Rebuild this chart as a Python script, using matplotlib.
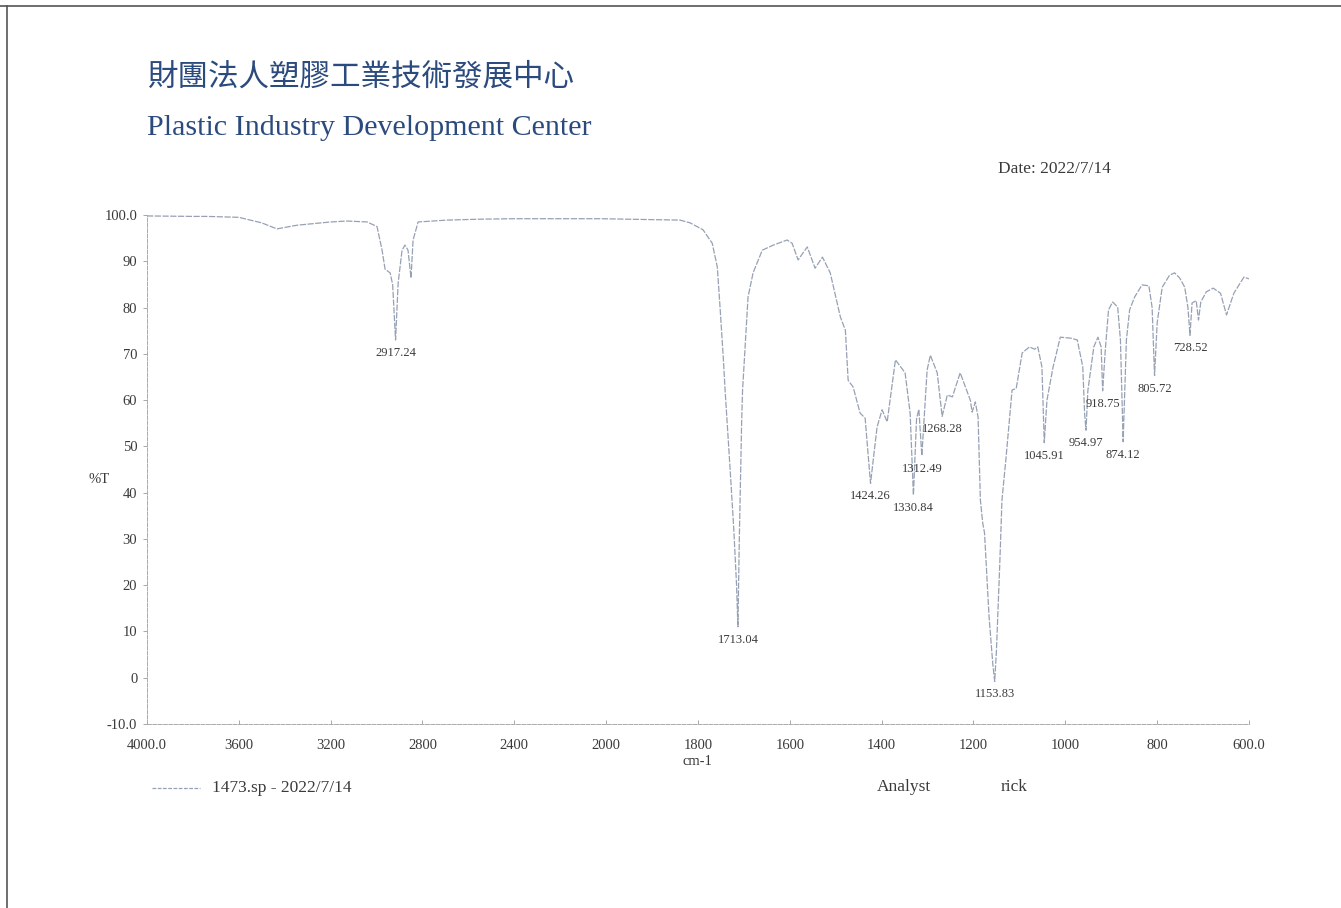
import numpy as np
import matplotlib
matplotlib.use("Agg")
import matplotlib.pyplot as plt
from matplotlib.ticker import FixedLocator, FixedFormatter

# FTIR spectrum: wavenumber (cm-1) and %T
wavenumber = [4000, 3800, 3740, 3600, 3500, 3434, 3346, 3200, 3129, 3041,
              2998, 2976, 2963, 2941, 2930, 2917.24, 2906, 2889, 2876, 2863,
              2850, 2841, 2819, 2693, 2549, 2400, 2200, 2026, 1904, 1839,
              1817, 1789, 1769, 1758, 1752, 1745, 1741, 1730, 1722, 1716,
              1713.04, 1710, 1705, 1703, 1691, 1680, 1660, 1636, 1606, 1595,
              1582, 1562, 1545, 1529, 1512, 1490, 1479, 1473, 1462, 1447,
              1436, 1424.26, 1410, 1399, 1388, 1370, 1349, 1338, 1330.84, 1324,
              1319, 1312.49, 1301, 1294, 1279, 1268.28, 1257, 1246, 1229, 1207,
              1203, 1196, 1190, 1185, 1180, 1176, 1166, 1158, 1153.83, 1150,
              1143, 1138, 1129, 1116, 1107, 1094, 1078, 1067, 1060, 1051,
              1045.91, 1040, 1027, 1011, 989, 974, 962, 958, 954.97, 951,
              938, 929, 922, 918.75, 913, 906, 897, 886, 880, 874.12,
              867, 860, 849, 833, 818, 811, 805.72, 800, 789, 773,
              762, 751, 740, 733, 728.52, 724, 715, 710, 705, 693,
              678, 662, 649, 633, 611, 600]
transmittance = [99.8, 99.7, 99.7, 99.5, 98.3, 97.0, 97.8, 98.5, 98.7, 98.5,
                 97.5, 92.4, 88.3, 87.5, 85.0, 73.0, 85.3, 92.4, 93.5, 92.4,
                 86.4, 94.6, 98.5, 98.9, 99.1, 99.2, 99.2, 99.2, 99.0, 98.9,
                 98.3, 96.8, 93.9, 88.8, 80.1, 69.3, 62.2, 45.0, 32.0, 20.0,
                 11.0, 30.0, 55.0, 62.0, 82.3, 87.5, 92.4, 93.5, 94.6, 93.9,
                 90.3, 93.1, 88.5, 90.9, 87.5, 78.0, 75.1, 64.3, 62.8, 57.2,
                 56.1, 42.0, 54.2, 57.9, 55.3, 68.7, 65.9, 57.2, 39.5, 56.0,
                 58.0, 48.0, 66.5, 69.7, 65.9, 56.5, 61.1, 60.7, 65.9, 60.0,
                 57.4, 59.6, 56.3, 38.4, 33.5, 31.3, 13.0, 3.0, -0.8, 6.0,
                 24.0, 38.4, 47.7, 62.2, 62.5, 70.2, 71.5, 71.0, 71.5, 67.2,
                 50.8, 60.0, 67.0, 73.6, 73.4, 73.0, 67.2, 57.0, 53.5, 62.0,
                 71.5, 73.6, 71.5, 62.0, 70.8, 79.5, 81.2, 80.1, 73.0, 51.0,
                 73.0, 79.5, 82.3, 84.9, 84.7, 80.0, 65.3, 76.7, 84.4, 87.0,
                 87.5, 86.4, 84.4, 80.0, 74.0, 81.0, 81.5, 77.3, 81.2, 83.4,
                 84.2, 83.1, 78.4, 83.1, 86.6, 86.2]

peak_wn = [2917.24, 1713.04, 1424.26, 1330.84, 1312.49, 1268.28, 1153.83,
           1045.91, 954.97, 918.75, 874.12, 805.72, 728.52]
peak_labels = ["2917.24", "1713.04", "1424.26", "1330.84", "1312.49", "1268.28",
               "1153.83", "1045.91", "954.97", "918.75", "874.12", "805.72", "728.52"]

x_ticks = [4000, 3600, 3200, 2800, 2400, 2000, 1800, 1600, 1400, 1200, 1000, 800, 600]
x_tick_labels = ["4000.0", "3600", "3200", "2800", "2400", "2000", "1800",
                 "1600", "1400", "1200", "1000", "800", "600.0"]
y_ticks = [-10, 0, 10, 20, 30, 40, 50, 60, 70, 80, 90, 100]
y_tick_labels = ["-10.0", "0", "10", "20", "30", "40", "50", "60", "70", "80", "90", "100.0"]

LINE = "#96a1b4"
TEXT = "#3a3a3a"
BLUE = "#2b4a7e"
SERIF = ["Liberation Serif", "DejaVu Serif"]


# instrument plots 4000-2000 at half the scale of 2000-600
def fwd(x):
    x = np.asarray(x, dtype=float)
    return np.where(x >= 2000, x / 400.0, x / 200.0 - 5.0)


def inv(u):
    u = np.asarray(u, dtype=float)
    return np.where(u >= 5, u * 400.0, (u + 5.0) * 200.0)


fig = plt.figure(figsize=(13.41, 9.08), dpi=100)
ax = fig.add_axes([0.1096, 0.2026, 0.8218, 0.5606])
ax.set_xscale("function", functions=(fwd, inv))
ax.plot(wavenumber, transmittance, color=LINE, lw=0.9, dashes=(5, 1.2))
ax.set_xlim(4000, 600)
ax.set_ylim(-10, 100)

# peak labels just below each minimum
wn_sorted = np.array(wavenumber)[::-1]
t_sorted = np.array(transmittance)[::-1]
for wn, lab in zip(peak_wn, peak_labels):
    t = np.interp(wn, wn_sorted, t_sorted)
    ax.text(wn, t - 2.8, lab, ha="center", va="center", fontsize=9,
            family=SERIF, color=TEXT)

ax.xaxis.set_major_locator(FixedLocator(x_ticks))
ax.xaxis.set_major_formatter(FixedFormatter(x_tick_labels))
ax.xaxis.set_minor_locator(FixedLocator([]))
ax.yaxis.set_major_locator(FixedLocator(y_ticks))
ax.yaxis.set_major_formatter(FixedFormatter(y_tick_labels))
ax.tick_params(axis="x", direction="in", length=3, width=0.6, color="#999999",
               pad=11, labelsize=10.5, labelcolor=TEXT)
ax.tick_params(axis="y", direction="out", length=3, width=0.6, color="#999999",
               pad=4, labelsize=10.5, labelcolor=TEXT)
for lbl in ax.get_xticklabels() + ax.get_yticklabels():
    lbl.set_family(SERIF)

for side in ["top", "right"]:
    ax.spines[side].set_visible(False)
for side in ["left", "bottom"]:
    ax.spines[side].set_color("#aaaaaa")
    ax.spines[side].set_linewidth(0.7)
    ax.spines[side].set_linestyle((0, (4, 1.5)))

# page text
fig.text(0.1096, 0.9152, "財團法人塑膠工業技術發展中心", fontsize=22,
         family=["Noto Sans CJK TC", "DejaVu Sans"], color=BLUE, va="center")
fig.text(0.1096, 0.859, "Plastic Industry Development Center", fontsize=21.6,
         family=SERIF, color=BLUE, va="center")
fig.text(0.7442, 0.8139, "Date: 2022/7/14", fontsize=12.5, family=SERIF,
         color=TEXT, va="center")
fig.text(0.0738, 0.4714, "%T", fontsize=10.5, family=SERIF, color=TEXT,
         ha="center", va="center")
fig.text(0.5198, 0.1608, "cm-1", fontsize=10.5, family=SERIF, color=TEXT,
         ha="center", va="center")

# legend row
fig.add_artist(plt.Line2D([152 / 1341, 200 / 1341], [0.1322, 0.1322],
                          color=LINE, lw=0.9, dashes=(3, 1.2)))
fig.text(212 / 1341, 0.1322, "1473.sp - 2022/7/14", fontsize=12.5,
         family=SERIF, color=TEXT, va="center")
fig.text(877 / 1341, 0.1333, "Analyst", fontsize=12.5, family=SERIF,
         color=TEXT, va="center")
fig.text(1001 / 1341, 0.1333, "rick", fontsize=12.5, family=SERIF,
         color=TEXT, va="center")

# page frame edges from the scan
fig.add_artist(plt.Line2D([0, 1], [1 - 6 / 908, 1 - 6 / 908], color="#555555", lw=1.2))
fig.add_artist(plt.Line2D([7 / 1341, 7 / 1341], [0, 1 - 6 / 908], color="#555555", lw=1.2))

fig.savefig("out.png", dpi=100)
